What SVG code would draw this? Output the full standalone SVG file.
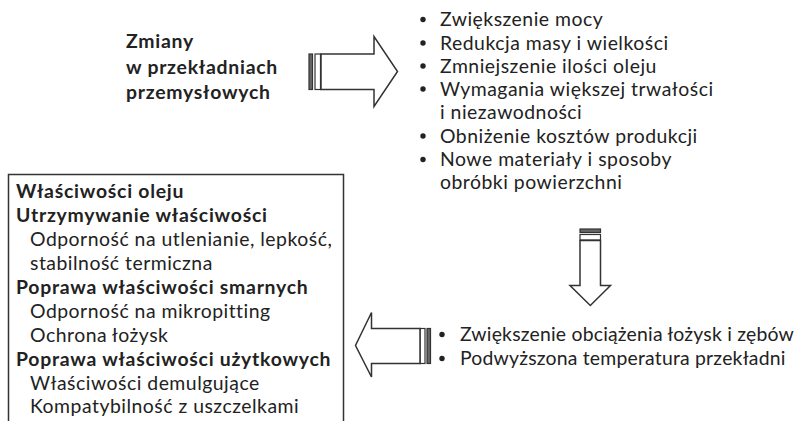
<svg xmlns="http://www.w3.org/2000/svg" width="803" height="421" viewBox="0 0 803 421">
<style>
text{font-family:Lato,"Open Sans","Liberation Sans",sans-serif;font-size:19.4px;letter-spacing:0.5px;fill:#222}
.b{font-weight:bold;letter-spacing:0.75px}
.t{letter-spacing:0.2px}
.arr{fill:#fff;stroke:#333;stroke-width:1.5;stroke-linejoin:miter}
.bar{fill:#666;stroke:#333;stroke-width:1.2}
.bar2{fill:#fff;stroke:#333;stroke-width:1.2}
.dot{fill:#222}
</style>
<rect width="803" height="421" fill="#fff"/>
<g id="title">
<text class="b" x="126" y="48">Zmiany</text>
<text class="b" x="126" y="74">w przekładniach</text>
<text class="b" x="126" y="99">przemysłowych</text>
</g>
<g id="changes">
<g class="dot"><circle cx="423" cy="19.5" r="2.7"/><circle cx="423" cy="43" r="2.7"/><circle cx="423" cy="66" r="2.7"/><circle cx="423" cy="89" r="2.7"/><circle cx="423" cy="136" r="2.7"/><circle cx="423" cy="159.5" r="2.7"/></g>
<text x="440" y="26">Zwiększenie mocy</text>
<text x="440" y="49.5">Redukcja masy i wielkości</text>
<text x="440" y="72.5">Zmniejszenie ilości oleju</text>
<text x="440" y="95.5">Wymagania większej trwałości</text>
<text x="440" y="118.5">i niezawodności</text>
<text x="440" y="142.5">Obniżenie kosztów produkcji</text>
<text x="440" y="166">Nowe materiały i sposoby</text>
<text x="440" y="189">obróbki powierzchni</text>
</g>
<g id="effects">
<g class="dot"><circle cx="442" cy="334.5" r="2.7"/><circle cx="442" cy="358.5" r="2.7"/></g>
<text class="t" x="460" y="341">Zwiększenie obciążenia łożysk i zębów</text>
<text class="t" x="460" y="365">Podwyższona temperatura przekładni</text>
</g>
<g id="oil-properties">
<rect x="8.5" y="174.5" width="335" height="260" fill="#fff" stroke="#333" stroke-width="1.5"/>
<text class="b" x="16" y="198">Właściwości oleju</text>
<text class="b" x="16" y="222">Utrzymywanie właściwości</text>
<text x="30" y="246">Odporność na utlenianie, lepkość,</text>
<text x="30" y="270">stabilność termiczna</text>
<text class="b" x="16" y="294">Poprawa właściwości smarnych</text>
<text x="30" y="318">Odporność na mikropitting</text>
<text x="30" y="341.5">Ochrona łożysk</text>
<text class="b" x="16" y="365.5">Poprawa właściwości użytkowych</text>
<text x="30" y="389.5">Właściwości demulgujące</text>
<text x="30" y="413">Kompatybilność z uszczelkami</text>
</g>
<g id="connectors">
<g id="arrow-right">
<rect class="bar" x="309" y="54" width="3.5" height="35.5"/>
<rect class="bar2" x="315" y="54" width="5.5" height="35.5"/>
<polygon class="arr" points="321,54 374,54 374,36.5 397.5,71.5 374,106.5 374,89.5 321,89.5"/>
</g>
<g id="arrow-down">
<rect class="bar" x="580" y="229" width="20.5" height="3.5"/>
<rect class="bar2" x="580" y="234.5" width="20.5" height="5.5"/>
<polygon class="arr" points="580,240.5 600.5,240.5 600.5,285.5 610.5,285.5 590.3,305.5 570,285.5 580,285.5"/>
</g>
<g id="arrow-left">
<rect class="bar2" x="420" y="328.5" width="5" height="35"/>
<rect class="bar" x="427" y="328.5" width="3.5" height="35"/>
<polygon class="arr" points="420,328.5 371.5,328.5 371.5,312.5 355.5,345.5 371.5,377 371.5,363.5 420,363.5"/>
</g>
</g>
</svg>
